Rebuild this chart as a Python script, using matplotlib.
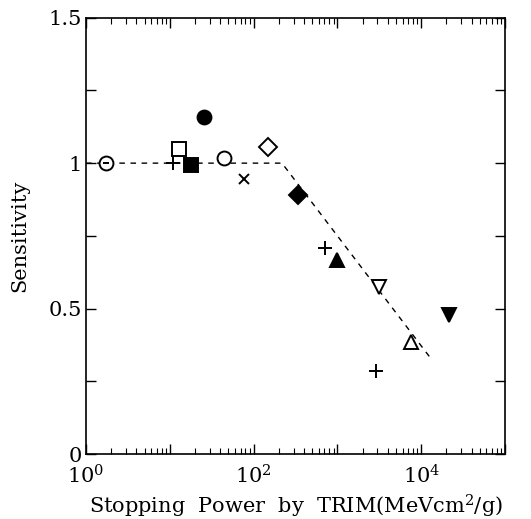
import numpy as np
import matplotlib
matplotlib.use("Agg")
import matplotlib.pyplot as plt
from matplotlib.ticker import LogLocator, FixedLocator, NullFormatter

plt.rcParams['font.family'] = ['DejaVu Serif']
plt.rcParams['mathtext.fontset'] = 'dejavuserif'

# measured points: (stopping power, sensitivity, marker, filled)
sp = [1.73, 10.8, 13.0, 18.0, 25.7, 44.2, 77.3, 148, 339, 706, 991, 3177, 7660, 2898, 21400]
sens = [1.0, 1.0, 1.048, 0.995, 1.159, 1.016, 0.947, 1.056, 0.89, 0.707, 0.666, 0.575, 0.384, 0.286, 0.477]
markers = ['o', '+', 's', 's', 'o', 'o', 'x', 'D', 'D', '+', '^', 'v', '^', '+', 'v']
filled = [False, False, False, True, True, False, False, False, True, False, True, False, False, False, True]

# dashed guide line
fit_x = [1.0, 218, 13500]
fit_y = [1.0, 1.0, 0.323]

fig = plt.figure(figsize=(5.31, 5.19), dpi=100)
ax = fig.add_axes([0.162, 0.125, 0.789, 0.841])

ax.plot(fit_x, fit_y, 'k--', lw=1.0, dashes=(4, 4))

sizes = {'o': 10, '+': 10, 's': 10, 'x': 7, 'D': 9, '^': 10, 'v': 10}
for x, y, m, f in zip(sp, sens, markers, filled):
    ax.plot(x, y, marker=m, ms=sizes[m], mec='k', mew=1.4,
            mfc='k' if f else 'white', ls='none', zorder=3)
# dash inside the first circle
ax.plot(sp[0], sens[0], marker='_', ms=5, mec='k', mew=1.4, zorder=4)

ax.set_xscale('log')
ax.set_xlim(1, 1e5)
ax.set_ylim(0, 1.5)

ax.xaxis.set_major_locator(FixedLocator([1, 10, 100, 1000, 1e4, 1e5]))
ax.xaxis.set_minor_locator(LogLocator(base=10, subs=np.arange(2, 10), numticks=20))
ax.xaxis.set_minor_formatter(NullFormatter())
ax.set_xticklabels(['$10^0$', '', '$10^2$', '', '$10^4$', ''])

ax.yaxis.set_major_locator(FixedLocator([0, 0.25, 0.5, 0.75, 1.0, 1.25, 1.5]))
ax.set_yticklabels(['0', '', '0.5', '', '1', '', '1.5'])

ax.tick_params(which='both', direction='in', top=True, right=True, labelsize=15)
ax.tick_params(which='major', length=7, width=1.0)
ax.tick_params(which='minor', length=4, width=0.8)
ax.tick_params(axis='x', pad=7)
ax.tick_params(axis='y', pad=3)

for s in ax.spines.values():
    s.set_linewidth(1.2)

ax.set_ylabel('Sensitivity', fontsize=15, labelpad=14)
ax.set_xlabel('Stopping  Power  by  TRIM(MeVcm$^2$/g)', fontsize=15, labelpad=4)

fig.savefig('out.png', dpi=100)
